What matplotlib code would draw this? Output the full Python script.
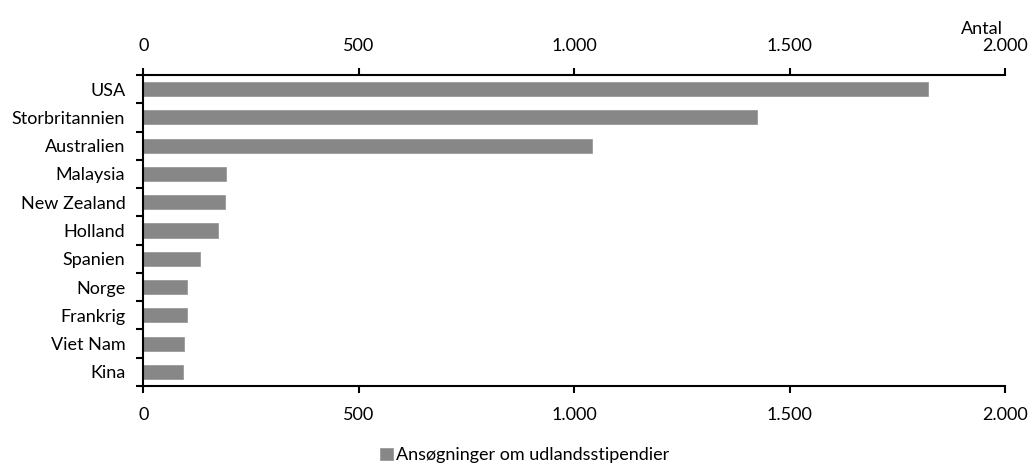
import matplotlib
matplotlib.use("Agg")
import matplotlib.pyplot as plt
import matplotlib.ticker as mticker
import numpy as np

plt.rcParams['font.family'] = ['Lato', 'DejaVu Sans']

# data
countries = ["USA", "Storbritannien", "Australien", "Malaysia", "New Zealand",
             "Holland", "Spanien", "Norge", "Frankrig", "Viet Nam", "Kina"]
applications = [1822, 1424, 1041, 193, 189, 173, 132, 102, 102, 95, 91]
xticks = [0, 500, 1000, 1500, 2000]
series_label = "Ansøgninger om udlandsstipendier"

fig = plt.figure(figsize=(10.29, 4.67), dpi=100)
ax = fig.add_axes([0.1393, 0.1734, 0.9767 - 0.1393, 0.8394 - 0.1734])

y = np.arange(len(countries))
ax.barh(y, applications, height=0.5, color="#878787", edgecolor="#9a9a9a",
        linewidth=0.6, label=series_label)

ax.set_ylim(len(countries) - 0.5, -0.5)
ax.set_xlim(0, 2000)

# category labels without ticks, boundary ticks as minor
ax.set_yticks(y)
ax.set_yticklabels(countries, fontsize=13)
ax.tick_params(axis="y", which="major", length=0, pad=13)
ax.set_yticks(np.arange(-0.5, len(countries)), minor=True)
ax.tick_params(axis="y", which="minor", length=5, width=1.5, direction="out")

fmt = mticker.FuncFormatter(lambda v, p: f"{int(v):,}".replace(",", "."))
ax.set_xticks(xticks)
ax.xaxis.set_major_formatter(fmt)
ax.tick_params(axis="x", which="major", length=5, width=1.5, direction="out",
               labelsize=13, top=True, labeltop=True, pad=10)

for s in ["top", "bottom", "left"]:
    ax.spines[s].set_linewidth(1.5)
ax.spines["right"].set_visible(False)

fig.text(0.975, 0.938, "Antal", ha="right", va="center", fontsize=13)

fig.legend(loc="center", bbox_to_anchor=(0.51, 0.025), frameon=False,
           fontsize=13, handlelength=0.7, handleheight=0.7, handletextpad=0.2)

fig.savefig("out.png", dpi=100)
